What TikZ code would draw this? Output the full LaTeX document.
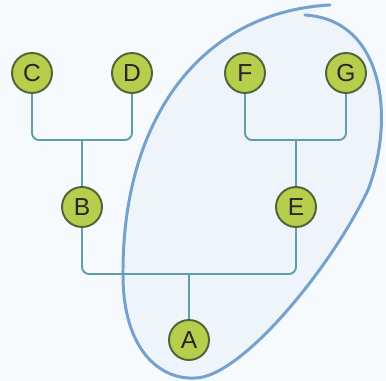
\documentclass[tikz,border=0pt]{standalone}
\usepackage{fontspec}
\setsansfont{Liberation Sans}
\usepackage{xcolor}
\usepackage{tikz}
\usetikzlibrary{positioning,calc}
\definecolor{fundo}{HTML}{F6FAFD}
\definecolor{regiao}{HTML}{EEF4FA}
\definecolor{contorno}{HTML}{74A2CF}
\definecolor{verde}{HTML}{B7CE4C}
\definecolor{borda}{HTML}{4E6538}
\definecolor{haste}{HTML}{5E9DAE}
\tikzset{
    vertice/.style={
        circle,
        draw=borda,
        line width=1.1pt,
        fill=verde,
        minimum size=0.8cm,
        inner sep=0pt,
        font=\sffamily\fontsize{14}{16}\selectfont,
        text=black!85
    },
    ligacao/.style={draw=haste, line width=1.1pt, rounded corners=4pt},
    grupo/.style={draw=contorno, line width=1.7pt, line cap=round}
}

\begin{document}
\begin{tikzpicture}[x=0.02cm, y=-0.02cm]
        \fill[fundo] (0,0) rectangle (386,381);
        \useasboundingbox (0,0) rectangle (386,381);
        \coordinate (topo) at (330,5);
        \coordinate (esq) at (123,275);
        \coordinate (base) at (195,378);
        \coordinate (dir) at (368,190);
        \coordinate (fim) at (305,15);
        \fill[regiao] (topo) .. controls (200,12) and (122,120) .. (esq)
            .. controls (123,350) and (160,380) .. (base)
            .. controls (240,378) and (330,270) .. (dir)
            .. controls (395,120) and (385,20) .. (fim) -- cycle;
        \draw[grupo] (topo) .. controls (200,12) and (122,120) .. (esq)
            .. controls (123,350) and (160,380) .. (base)
            .. controls (240,378) and (330,270) .. (dir)
            .. controls (395,120) and (385,20) .. (fim);
        \coordinate (cd) at (82,140);
        \coordinate (fg) at (296,140);
        \coordinate (be) at (189,274);
        \node[vertice] (C) at (32,73) {C};
        \node[vertice] (D) at (132,73) {D};
        \node[vertice] (F) at (245,73) {F};
        \node[vertice] (G) at (346,73) {G};
        \node[vertice] (B) at (82,207) {B};
        \node[vertice] (E) at (296,207) {E};
        \node[vertice] (A) at (189,340) {A};
        \draw[ligacao] (C) |- (cd) -| (D);
        \draw[ligacao] (cd) -- (B);
        \draw[ligacao] (F) |- (fg) -| (G);
        \draw[ligacao] (fg) -- (E);
        \draw[ligacao] (B) |- (be) -| (E);
        \draw[ligacao] (be) -- (A);
    \end{tikzpicture}
\end{document}
